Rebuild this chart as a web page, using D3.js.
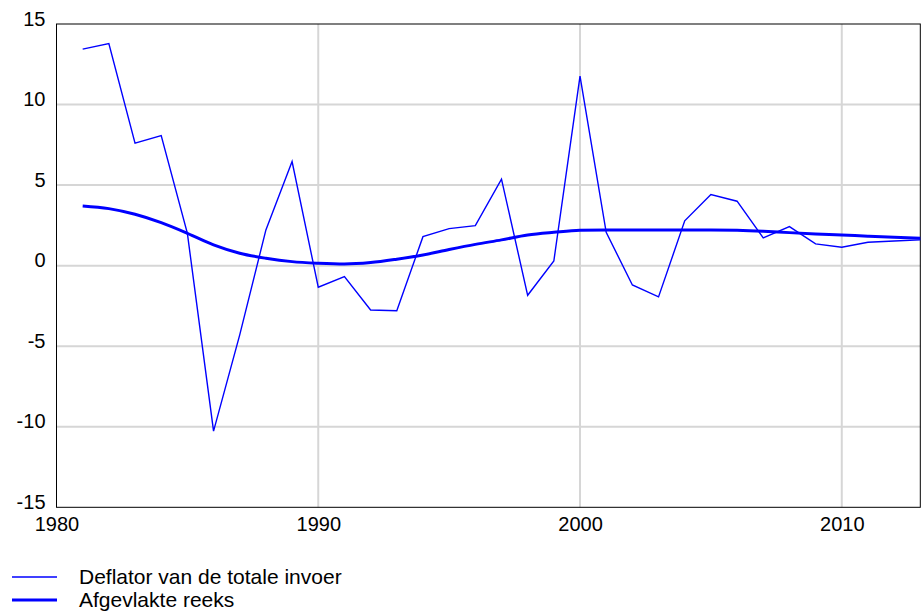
<!DOCTYPE html>
<html><head><meta charset="utf-8">
<script src="https://cdn.jsdelivr.net/npm/d3@7"></script>
<style>body{margin:0;background:#fff;} text{font-family:"Liberation Sans",Arial,Helvetica,sans-serif;}</style>
</head><body><svg id="c" width="923" height="613"></svg>
<script>
const years = d3.range(1981, 2014);
const deflator = [13.44, 13.79, 7.6, 8.07, 2.0, -10.27, -4.3, 2.22, 6.46, -1.34, -0.68, -2.75, -2.8, 1.8, 2.3, 2.48, 5.37, -1.84, 0.29, 11.76, 2.07, -1.2, -1.94, 2.78, 4.41, 4.0, 1.72, 2.42, 1.35, 1.14, 1.45, 1.53, 1.6];
const smoothed = [3.71, 3.54, 3.19, 2.67, 2.01, 1.29, 0.77, 0.46, 0.25, 0.15, 0.1, 0.19, 0.4, 0.66, 1.0, 1.32, 1.6, 1.9, 2.07, 2.2, 2.22, 2.22, 2.22, 2.22, 2.22, 2.2, 2.14, 2.05, 1.97, 1.9, 1.83, 1.76, 1.7];
const yTicks = [-15, -10, -5, 0, 5, 10, 15];
const xTicks = [1980, 1990, 2000, 2010];
const seriesNames = ["Deflator van de totale invoer", "Afgevlakte reeks"];

const svg = d3.select("#c");
const L = 56.5, R = 920.3, T = 24, B = 507.3;
const x = d3.scaleLinear().domain([1980, 2013]).range([L, R]);
const y = d3.scaleLinear().domain([-15, 15]).range([B, T]);

// grid
svg.append("g").selectAll("line").data(yTicks.filter(v => v > -15 && v < 15)).join("line")
  .attr("x1", L).attr("x2", R).attr("y1", d => y(d)).attr("y2", d => y(d))
  .attr("stroke", "#d6d6d6").attr("stroke-width", 2);
svg.append("g").selectAll("line").data(xTicks.filter(v => v > 1980)).join("line")
  .attr("y1", T).attr("y2", B).attr("x1", d => x(d)).attr("x2", d => x(d))
  .attr("stroke", "#d6d6d6").attr("stroke-width", 2);

// frame
svg.append("rect").attr("x", L).attr("y", T).attr("width", R - L).attr("height", B - T)
  .attr("fill", "none").attr("stroke", "#000").attr("stroke-width", 1);

const fmt = d => String(d);
const yAxis = svg.append("g").attr("transform", `translate(${L},0)`)
  .call(d3.axisLeft(y).tickValues(yTicks).tickSize(0).tickPadding(11).tickFormat(fmt));
yAxis.select(".domain").remove();
yAxis.selectAll("text").attr("dy", "0.05em").attr("font-size", 20).attr("fill", "#000")
  .attr("font-family", "Liberation Sans, Arial, sans-serif");

const xAxis = svg.append("g").attr("transform", `translate(0,${B})`)
  .call(d3.axisBottom(x).tickValues(xTicks).tickSize(0).tickPadding(0).tickFormat(fmt));
xAxis.select(".domain").remove();
xAxis.selectAll("text").attr("dy", "0").attr("y", 24).attr("font-size", 20).attr("fill", "#000")
  .attr("font-family", "Liberation Sans, Arial, sans-serif");

// lines
const line = d3.line().x((d, i) => x(years[i])).y(d => y(d));
svg.append("path").datum(deflator).attr("d", line).attr("fill", "none")
  .attr("stroke", "#0000ff").attr("stroke-width", 1.4).attr("stroke-linejoin", "miter");
svg.append("path").datum(smoothed).attr("d", d3.line().curve(d3.curveMonotoneX).x((d, i) => x(years[i])).y(d => y(d))).attr("fill", "none")
  .attr("stroke", "#0000ff").attr("stroke-width", 3);

// legend
const lg = svg.append("g");
const widths = [1.4, 3];
seriesNames.forEach((n, i) => {
  const yy = 577 + i * 23;
  lg.append("line").attr("x1", 12).attr("x2", 57).attr("y1", yy).attr("y2", yy)
    .attr("stroke", "#0000ff").attr("stroke-width", widths[i]);
  lg.append("text").attr("x", 79).attr("y", yy + 7).attr("font-size", 21).text(n);
});
</script></body></html>
